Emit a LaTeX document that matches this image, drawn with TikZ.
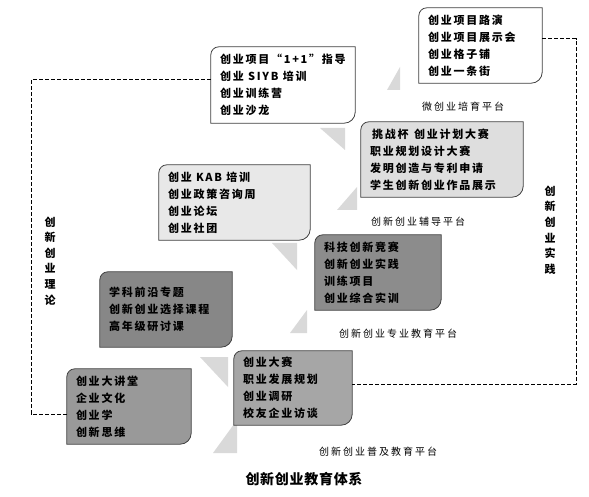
\documentclass[tikz,border=0pt]{standalone}
\usepackage{fontspec}
\newfontfamily\cjk[LetterSpace=16]{Noto Sans CJK SC}
\newfontfamily\cjklab[LetterSpace=20]{Noto Sans CJK SC}
\newfontfamily\cjktitle[LetterSpace=5]{Noto Sans CJK SC}
\pgfdeclarelayer{background}
\pgfsetlayers{background,main}
\tikzset{
  boxshape/.style={inner sep=0pt, draw=none, fill=none},
  boxline/.style={draw=black!75, line width=0.8pt},
  pbox/.style={inner sep=0pt, align=left, font=\cjk\bfseries\fontsize{11}{17}\selectfont},
  dline/.style={draw=black, line width=1pt, dash pattern=on 4pt off 2pt},
  lab/.style={inner sep=0pt, font=\cjklab\fontsize{10}{12}\selectfont},
  vlab/.style={inner sep=0pt, align=center, font=\cjk\bfseries\fontsize{11}{15.6}\selectfont},
  tail/.style={fill=black!15, draw=none},
}
\newcommand\platbox[7]{%
  \node[boxshape, minimum width={(#4-#2)*1pt}, minimum height={(#5-#3)*1pt}] (#1) at ({(#2+#4)/2},{(#3+#5)/2}) {};
  \begin{pgfonlayer}{background}
    \path[boxline, fill=#6] (#1.west) [rounded corners=8pt] -- (#1.north west) -- (#1.north) [sharp corners] -- (#1.north east) -- (#1.east) [rounded corners=11pt] -- (#1.south east) -- (#1.south) [sharp corners] -- (#1.south west) -- cycle;
  \end{pgfonlayer}
  \node[pbox, anchor=west] (#1t) at ([xshift=9pt]#1.west) {#7};
}
\begin{document}
\begin{tikzpicture}[x=1pt, y=-1pt]
\useasboundingbox (0,0) rectangle (589,497);

% faint staircase tails
\begin{pgfonlayer}{background}
  \fill[tail] (387,90) -- (400,67) -- (400,90) -- cycle;
  \fill[tail] (320,128) -- (345,128) -- (345,150) -- cycle;
  \fill[tail] (357,187) -- (357,210) -- (337,210) -- cycle;
  \fill[tail] (272,243) -- (297,243) -- (297,270) -- cycle;
  \fill[tail] (307,310) -- (307,333) -- (290,333) -- cycle;
  \fill[tail] (200,357) -- (228,357) -- (228,387) -- cycle;
  \fill[tail] (237,420) -- (237,453) -- (213,453) -- cycle;
\end{pgfonlayer}

% boxes
\platbox{b1}{419}{8}{542}{83}{white}{创业项目路演\\创业项目展示会\\创业格子铺\\创业一条街}
\platbox{b2}{211}{47}{355}{123}{white}{创业项目“1+1”指导\\创业 SIYB 培训\\创业训练营\\创业沙龙}
\platbox{b3}{361}{122}{523}{197}{black!13}{\hspace{2pt}挑战杯\hspace{0.5em}创业计划大赛\\职业规划设计大赛\\发明创造与专利申请\\学生创新创业作品展示}
\platbox{b4}{159}{165}{310}{240}{black!9}{创业 KAB 培训\\创业政策咨询周\\创业论坛\\创业社团}
\platbox{b5}{315}{235}{441}{310}{black!45}{科技创新竞赛\\创新创业实践\\训练项目\\创业综合实训}
\platbox{b6}{100}{272}{232}{347}{black!47}{学科前沿专题\\创新创业选择课程\\高年级研讨课}
\platbox{b7}{67}{369}{191}{444}{black!40}{创业大讲堂\\企业文化\\创业学\\创新思维}
\platbox{b8}{234}{351}{352}{425}{black!35}{创业大赛\\职业发展规划\\创业调研\\校友企业访谈}

% platform labels
\node[lab] (l1) at (463,107) {微创业培育平台};
\node[lab] (l2) at (418,222) {创新创业辅导平台};
\node[lab] (l3) at (398,334) {创新创业专业教育平台};
\node[lab] (l4) at (378,452) {创新创业普及教育平台};

% side labels
\node[vlab] (vl) at (50,261) {创\\新\\创\\业\\理\\论};
\node[vlab] (vr) at (550,230) {创\\新\\创\\业\\实\\践};

% dashed connectors
\coordinate (lc) at (31,414);
\coordinate (rc) at (576,384);
\draw[dline] ([yshift=5pt]b2.west) -| (lc) -- (b7.west |- lc);
\draw[dline] ([yshift=6.5pt]b1.east) -| (rc) -- (b8.east |- rc);

% title
\node[inner sep=0pt, font=\cjktitle\bfseries\fontsize{14}{16}\selectfont] (title) at (304,479) {创新创业教育体系};
\end{tikzpicture}
\end{document}
